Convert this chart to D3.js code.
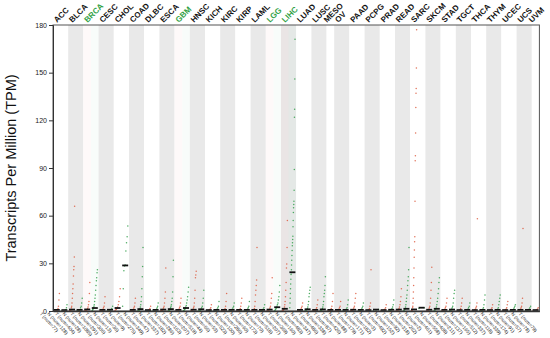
<!DOCTYPE html>
<html>
<head>
<meta charset="utf-8">
<script src="https://cdn.jsdelivr.net/npm/d3@7"></script>
<style>
  body { margin: 0; background: #fff; }
  svg { font-family: "Liberation Sans", Arial, sans-serif; }
  .axis path, .axis line { stroke: #333; }
</style>
</head>
<body>
<svg id="chart"></svg>
<script>
// cancer types and sample counts (0 = no normal group)
const types = ['ACC','BLCA','BRCA','CESC','CHOL','COAD','DLBC','ESCA','GBM','HNSC','KICH','KIRC','KIRP','LAML','LGG','LIHC',
  'LUAD','LUSC','MESO','OV','PAAD','PCPG','PRAD','READ','SARC','SKCM','STAD','TGCT','THCA','THYM','UCEC','UCS','UVM']
const tumorNum  = [77,404,1085,306,36,275,47,182,163,519,66,523,286,173,518,369,483,486,87,426,179,182,492,92,262,461,408,137,512,118,174,57,79]
const normalNum = [128,28,291,13,9,349,337,286,207,44,53,100,60,70,207,160,347,338,0,88,171,3,152,318,2,558,211,165,337,339,91,78,0]
const greenTypes = ['BRCA','GBM','LGG','LIHC']
const yTicks = [0,30,60,90,120,150,180]

// medians (TPM)
const tumorMed  = [0.3,0.5,0.6,0.3,1.5,0.3,0.2,0.5,0.3,0.4,0.2,0.3,0.3,0.3,0.5,1,0.3,0.3,0.3,0.3,0.4,0.2,0.2,0.5,0.6,0.4,0.3,0.2,0.2,0.2,0.2,0.3,0.2]
const normalMed = [0.2,0.3,1.5,0.4,28.3,0.8,0.3,0.8,1.5,0.7,0.3,0.3,0.3,0.3,2,24,0.7,0.6,null,0.3,0.3,0.5,0.4,1,1.7,1,0.5,0.3,0.3,0.3,0.3,0.3,null]

// sample values per group (sorted)
const tumorVals = [
  [0,0,0,0.1,0.2,0.3,0.5,0.8,1.5,3,7,11],
  [0,0,0.1,0.2,0.4,0.7,1,2,3,5,8,11,14,17,22,26,28,34,66],
  [0,0,0.1,0.2,0.4,0.6,1,1.5,2.5,4,6,11,18],
  [0,0,0.1,0.2,0.3,0.5,0.8,1.2,2,3,5,9],
  [0.3,0.6,1,1.5,2.5,4,6,9,14],
  [0,0,0.1,0.2,0.3,0.5,0.8,1.2,2,3,5,8],
  [0,0,0.1,0.2,0.4,0.8,1.5,3],
  [0,0.1,0.2,0.3,0.5,0.8,1.2,2,3,5,8,12,27],
  [0,0,0.1,0.2,0.3,0.5,0.8,1.2,2,3,5,8],
  [0,0.1,0.2,0.3,0.5,0.8,1.2,2,3,5,8,13,21,22.6,25],
  [0,0,0.1,0.2,0.3,0.5,0.8,1.2,2,4],
  [0,0,0.1,0.2,0.3,0.5,0.8,1.5,3,6,11],
  [0,0,0.1,0.2,0.3,0.5,0.8,1.5,3,5,8],
  [0,0,0.1,0.2,0.3,0.5,0.8,1.5,3,6,10,13,16,19.5,40],
  [0,0.1,0.2,0.3,0.5,0.8,1.2,2,3,5,8,11,21],
  [0,0.1,0.2,0.4,0.7,1,1.5,2.5,4,6,9,13,18,27,29.6,40,57],
  [0,0,0.1,0.2,0.3,0.5,0.8,1.2,2,3,5],
  [0,0,0.1,0.2,0.3,0.5,0.8,1.2,2,4,7],
  [0,0,0.1,0.2,0.4,0.8,1.5,3,6,11],
  [0,0,0.1,0.2,0.3,0.5,0.8,1.2,2,3,6],
  [0,0.1,0.2,0.3,0.5,0.8,1.2,2,3,5,8,11],
  [0,0,0.1,0.2,0.3,0.5,0.8,1.5,3,5,26],
  [0,0,0.1,0.2,0.3,0.5,0.8,1.2,2,4],
  [0,0.1,0.2,0.4,0.7,1,1.5,2.5,4,6,9,14],
  [0,0.1,0.2,0.4,0.7,1,2,3,5,8,12,16,21,27,33.8,38.4,43.6,46.8,69,94.6,97.7,112,128,137,140,153,177],
  [0,0.1,0.2,0.3,0.5,0.8,1.2,2,3,5,8,13,18,27.5],
  [0,0.1,0.2,0.3,0.5,0.8,1.2,2,3,5,8],
  [0,0,0.1,0.2,0.3,0.5,0.8,1.5,3,5,8],
  [0,0,0.1,0.2,0.3,0.5,0.8,1.2,2,3,5,58],
  [0,0,0.1,0.2,0.3,0.5,0.8,1.2,2,4],
  [0,0,0.1,0.2,0.3,0.5,0.8,1.2,2,4,6],
  [0,0.1,0.2,0.3,0.5,0.8,1.2,2,3,5,8,52],
  [0,0,0.1,0.2,0.3,0.5,0.8,1.2,2]
]
const normalVals = [
  [0,0,0,0,0.1,0.2,0.3,0.5,1,2,4],
  [0,0,0.1,0.2,0.3,0.5,1,2,3,5,8],
  [0.2,0.5,1,1.5,2,3,4,6,8,10,13,16,19,21,24,26],
  [0,0.1,0.2,0.4,0.8,1.5,3],
  [3,14,25.4,28.3,29,37.8,43,46.8,53.5],
  [0,0.1,0.2,0.4,0.6,1,1.5,2.5,4,6,9,14,21.6,28,40],
  [0,0,0.1,0.2,0.3,0.5,0.8,1.2,2,3,5],
  [0,0.1,0.3,0.5,0.8,1.2,2,3,4,6,8,12,21.6,32],
  [0.1,0.3,0.6,1,1.5,2.5,3.5,5,7,9,12,15],
  [0,0.1,0.3,0.5,0.8,1.2,2,3,5,8,13],
  [0,0.1,0.2,0.3,0.5,0.8,1.2,2,3,6],
  [0,0.1,0.2,0.3,0.5,0.8,1.2,2,3,5],
  [0,0.1,0.2,0.3,0.5,0.8,1.2,2,3,6],
  [0,0.1,0.2,0.3,0.5,0.8,1.2,2,4],
  [0.2,0.5,1,1.5,2,3,4,5,7,9,12,16],
  [2,5,8,11,14,17,20,23,24,26,29,32,35,38,41,43,45,47,53,57,62,65,67,69,76,89,122,127,146,171],
  [0,0.1,0.2,0.4,0.7,1,1.5,2.5,4,6,9,11,13,15],
  [0,0.1,0.2,0.4,0.7,1,1.5,2.5,4,6,9,11,13,16,21.6],
  [],
  [0,0.1,0.2,0.3,0.5,0.8,1.2,2,4,7],
  [0,0.1,0.2,0.3,0.5,0.8,1.2,2,3,5],
  [0.2,0.5,1],
  [0,0.1,0.2,0.4,0.7,1,1.5,2.5,4,7],
  [0.1,0.3,0.6,1,1.5,2.5,4,6,8,10,13,16,19,21.6,26,40],
  [1.5,2],
  [0.1,0.3,0.6,1,1.5,2.5,4,6,8,11,14,18,21],
  [0,0.1,0.3,0.5,0.8,1.2,2,3,5,8,11,13],
  [0,0.1,0.2,0.3,0.5,0.8,1.2,2,3,5],
  [0,0.1,0.2,0.3,0.5,0.8,1.2,2,4,7,10],
  [0,0.1,0.2,0.3,0.5,0.8,1.2,2,4,6,8,10],
  [0,0.1,0.2,0.3,0.5,0.8,1.2,2,3,4],
  [0,0.1,0.2,0.3,0.5,0.8,1.2,2,3],
  []
]

/**********************************************
 * layout
 **********************************************/
const width = 550
const height = 338
const plot = { left: 53, right: 539.4, top: 25, bottom: 311 }
const tumorColor = '#dd5a3e'
const normalColor = '#2f9e48'
const labelGreen = '#2ea043'

// one column per tumor / normal group
const cols = []
types.forEach((t, i) => {
    cols.push({ key: t + '|T', type: t, idx: i, grp: 'T', num: tumorNum[i], vals: tumorVals[i], med: tumorMed[i] })
    if (normalNum[i] > 0)
        cols.push({ key: t + '|N', type: t, idx: i, grp: 'N', num: normalNum[i], vals: normalVals[i], med: normalMed[i] })
})

const chart = d3.select('#chart').attr('width', width).attr('height', height)

const xScale = d3.scaleBand().domain(cols.map(c => c.key)).range([plot.left, plot.right]).padding(0)
const yScale = d3.scaleLinear().domain([0, 180]).range([plot.bottom, plot.top])
const bw = xScale.bandwidth()

// background bands per cancer type
types.forEach((t, i) => {
    const mine = cols.filter(c => c.type === t)
    const x0 = xScale(mine[0].key)
    const x1 = xScale(mine[mine.length - 1].key) + bw
    chart.append('rect')
        .attr('x', x0).attr('y', plot.top)
        .attr('width', x1 - x0).attr('height', plot.bottom - plot.top)
        .attr('fill', i % 2 ? '#e9e9e9' : '#ffffff')
})

// faint tint on the groups with significant difference
cols.filter(c => greenTypes.includes(c.type)).forEach(c => {
    chart.append('rect')
        .attr('x', xScale(c.key)).attr('y', plot.top)
        .attr('width', bw).attr('height', plot.bottom - plot.top)
        .attr('fill', c.grp === 'T' ? '#f4c4c4' : '#b8e6d0')
        .attr('opacity', 0.1)
})

// points, spread across the column by rank
cols.forEach(c => {
    const v = c.vals.slice().sort((a, b) => a - b)
    const n = v.length
    const x0 = xScale(c.key)
    chart.append('g').selectAll('circle')
        .data(v)
        .join('circle')
        .attr('cx', (d, k) => x0 + 1.2 + (n > 1 ? k / (n - 1) : 0.5) * (bw - 2.4))
        .attr('cy', d => yScale(d))
        .attr('r', 0.75)
        .attr('fill', c.grp === 'T' ? tumorColor : normalColor)
        .attr('fill-opacity', 0.85)
})

// median bars
chart.append('g').selectAll('line')
    .data(cols.filter(c => c.med != null))
    .join('line')
    .attr('x1', c => xScale(c.key) + 0.8)
    .attr('x2', c => xScale(c.key) + bw - 0.8)
    .attr('y1', c => yScale(c.med) - 0.6)
    .attr('y2', c => yScale(c.med) - 0.6)
    .attr('stroke', '#111')
    .attr('stroke-width', 1.8)

// frame
chart.append('rect')
    .attr('x', plot.left).attr('y', plot.top)
    .attr('width', plot.right - plot.left).attr('height', plot.bottom - plot.top)
    .attr('fill', 'none').attr('stroke', '#555').attr('stroke-width', 1)

// y axis
const axisY = chart.append('g').attr('class', 'axis')
    .attr('transform', `translate(${plot.left},0)`)
    .call(d3.axisLeft(yScale).tickValues(yTicks).tickSize(4).tickPadding(2))
axisY.selectAll('text').attr('font-size', 7).attr('fill', '#222')
axisY.select('.domain').attr('stroke', '#333')

chart.append('text')
    .attr('transform', `translate(16,${(plot.top + plot.bottom) / 2}) rotate(-90)`)
    .attr('text-anchor', 'middle')
    .attr('font-size', 14.5)
    .attr('fill', '#111')
    .text('Transcripts Per Million (TPM)')

// bottom group labels
const axisX = chart.append('g').attr('class', 'axis')
    .attr('transform', `translate(0,${plot.bottom})`)
    .call(d3.axisBottom(xScale).tickSize(0).tickFormat(k => {
        const c = cols.find(cc => cc.key === k)
        return `${c.grp} (num=${c.num})`
    }))
axisX.select('.domain').attr('stroke', '#333').attr('stroke-width', 1.5)
axisX.selectAll('text')
    .attr('font-size', 4.8)
    .attr('fill', '#222')
    .attr('text-anchor', 'start')
    .attr('transform', 'translate(-14,0) rotate(48)')
    .attr('dy', '0.3em')

// cancer type labels on top
chart.append('g').selectAll('text')
    .data(types)
    .join('text')
    .attr('transform', (t) => {
        const mine = cols.filter(c => c.type === t)
        const cx = (xScale(mine[0].key) + xScale(mine[mine.length - 1].key) + bw) / 2
        return `translate(${cx - 3.5},23) rotate(-45)`
    })
    .attr('font-size', 8)
    .attr('font-weight', 'bold')
    .attr('fill', t => greenTypes.includes(t) ? labelGreen : '#111')
    .text(t => t)
</script>
</body>
</html>
